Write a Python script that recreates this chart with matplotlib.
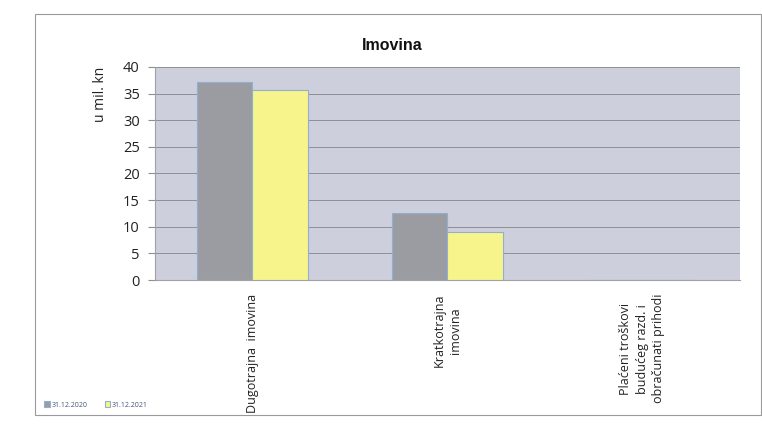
import matplotlib
matplotlib.use("Agg")
import matplotlib.pyplot as plt
import numpy as np
from matplotlib.patches import Rectangle

categories = ["Dugotrajna  imovina", "Kratkotrajna\nimovina",
              "Plaćeni troškovi\nbudućeg razd. i\nobračunati prihodi"]
series_names = ["31.12.2020", "31.12.2021"]
values_2020 = [37.2, 12.6, 0.0]
values_2021 = [35.7, 9.0, 0.0]
yticks = [0, 5, 10, 15, 20, 25, 30, 35, 40]

W, H = 762, 429
fig = plt.figure(figsize=(W / 100, H / 100), dpi=100)
fig.patch.set_facecolor("white")

# outer chart border
fig.patches.append(Rectangle((35 / W, 1 - 415 / H), (W - 36) / W, (415 - 14) / H,
                             transform=fig.transFigure, fill=False,
                             edgecolor="#9a9a9a", linewidth=0.8))

ax = fig.add_axes([155 / W, 1 - 280 / H, (740 - 155) / W, (280 - 67) / H])
ax.set_facecolor("#cdcfdc")

x = np.arange(len(categories))
bw = 0.285
ax.bar(x - bw / 2, values_2020, bw, color="#9b9ca2", edgecolor="#8fb0d0",
       linewidth=0.8, label=series_names[0], zorder=3)
ax.bar(x + bw / 2, values_2021, bw, color="#f6f48a", edgecolor="#8fb0d0",
       linewidth=0.8, label=series_names[1], zorder=3)

ax.set_xlim(-0.5, len(categories) - 0.5)
ax.set_ylim(0, 40)
ax.set_yticks(yticks)
ax.yaxis.grid(True, color="#8e8f98", linewidth=0.7, zorder=0)
ax.set_axisbelow(True)
for s in ["top", "right"]:
    ax.spines[s].set_visible(False)
ax.spines["left"].set_color("#a0a0a8")
ax.spines["bottom"].set_color("#a0a0a8")
ax.tick_params(axis="y", length=5, color="#909090", labelsize=10.5,
               labelcolor="#222222", pad=6)
ax.tick_params(axis="x", length=0, pad=10)
ax.set_xticks(x)
ax.set_xticklabels(categories, rotation=90, fontsize=9, color="#222222",
                   va="top", ha="center", family="Open Sans", linespacing=1.35)
for lbl in ax.get_yticklabels():
    lbl.set_family("Open Sans")

ax.set_ylabel("u mil. kn", fontsize=10, family="Open Sans", color="#222222")
ax.yaxis.set_label_coords(-0.08, 0.87)

fig.text(392 / W, 1 - 45 / H, "Imovina", ha="center", va="center",
         fontsize=11.5, fontweight="bold", family="Liberation Sans", color="#111111")

leg = fig.legend(loc="center left", bbox_to_anchor=(38 / W, 1 - 405 / H),
                 ncol=2, frameon=False, handlelength=0.8,
                 handleheight=0.8, columnspacing=2.5, handletextpad=0.2,
                 prop={"family": "Open Sans", "size": 5})
for t in leg.get_texts():
    t.set_color("#445577")

fig.savefig("out.png", dpi=100)
